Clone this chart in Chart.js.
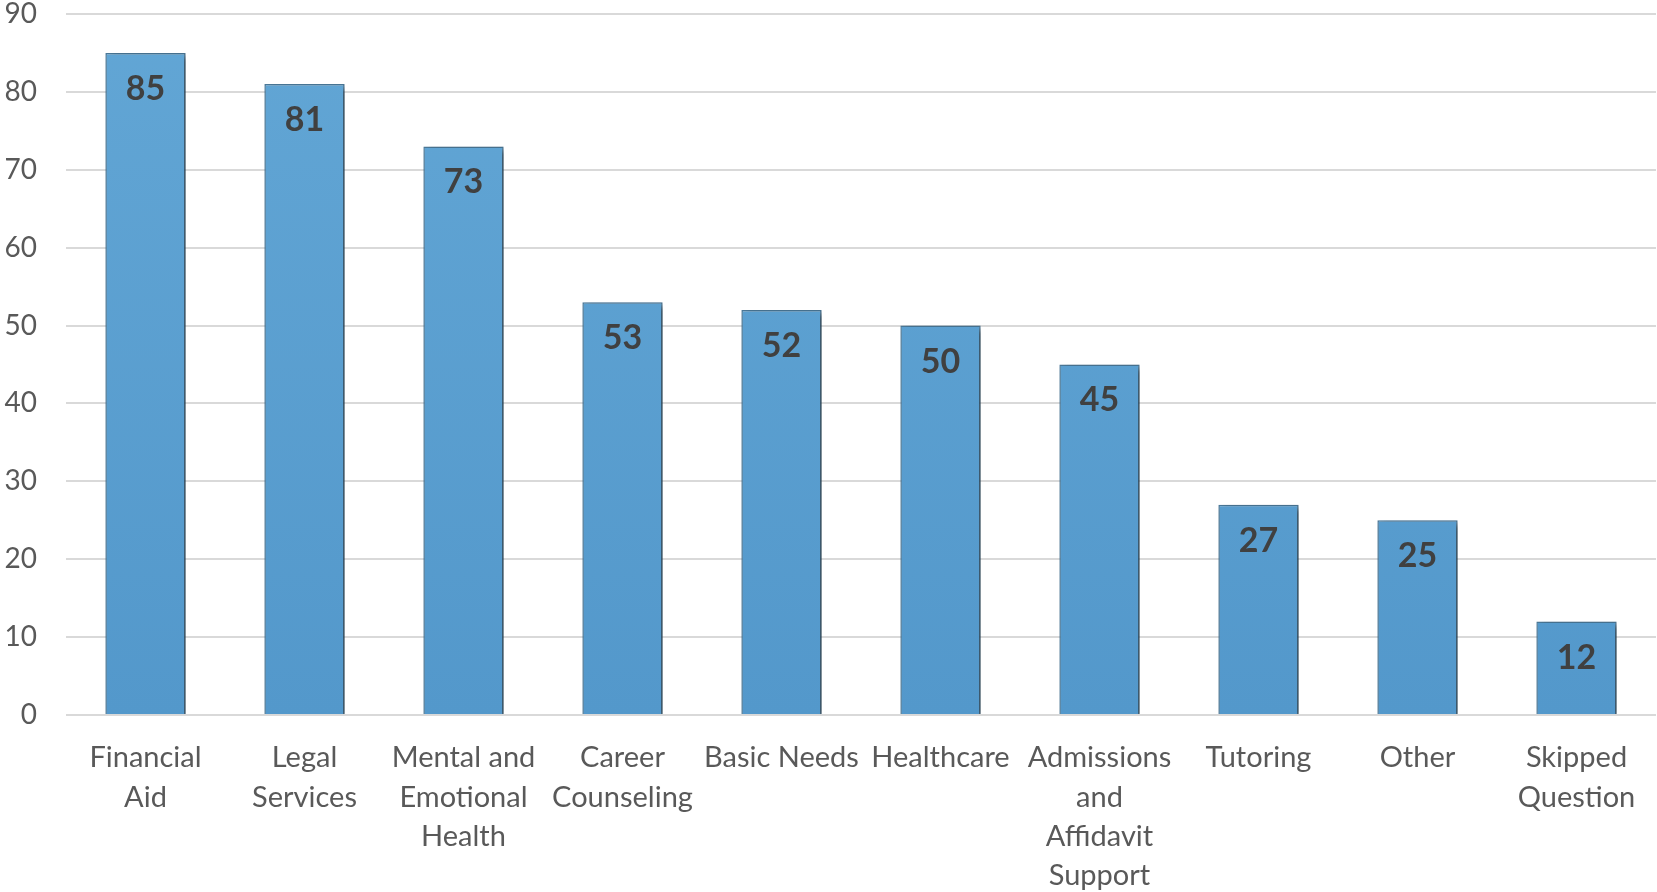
<!DOCTYPE html>
<html>
<head>
<meta charset="utf-8">
<script src="https://cdn.jsdelivr.net/npm/chart.js@4/dist/chart.umd.min.js"></script>
<style>
html,body{margin:0;padding:0;background:#fff;}
#wrap{width:1657px;height:892px;position:relative;}
</style>
</head>
<body>
<div id="wrap"><canvas id="c" width="1657" height="892"></canvas></div>
<script>
const categories = [
  ["Financial","Aid"],
  ["Legal","Services"],
  ["Mental and","Emotional","Health"],
  ["Career","Counseling"],
  "Basic Needs",
  "Healthcare",
  ["Admissions","and","Affidavit","Support"],
  "Tutoring",
  "Other",
  ["Skipped","Question"]
];
const values = [85, 81, 73, 53, 52, 50, 45, 27, 25, 12];
const yTicks = [0, 10, 20, 30, 40, 50, 60, 70, 80, 90];

const FONT = "Lato, 'Open Sans', sans-serif";

const shadowPlugin = {
  id: 'barShadow',
  beforeDatasetDraw(chart) {
    const ctx = chart.ctx;
    ctx.save();
    ctx.shadowColor = 'rgba(0,0,0,0.5)';
    ctx.shadowBlur = 6;
    ctx.shadowOffsetX = 4;
    ctx.shadowOffsetY = 3;
  },
  afterDatasetDraw(chart) {
    chart.ctx.restore();
  }
};

const valueLabels = {
  id: 'valueLabels',
  afterDatasetsDraw(chart) {
    const ctx = chart.ctx;
    const meta = chart.getDatasetMeta(0);
    ctx.save();
    ctx.font = "bold 34px " + FONT;
    ctx.fillStyle = '#404040';
    ctx.textAlign = 'center';
    ctx.textBaseline = 'middle';
    meta.data.forEach((bar, i) => {
      ctx.fillText(String(values[i]), bar.x, bar.y + 36);
    });
    ctx.restore();
  }
};

function barFill(context) {
  const chart = context.chart;
  const area = chart.chartArea;
  if (!area) return '#5AA0D2';
  const g = chart.ctx.createLinearGradient(0, area.top, 0, area.bottom);
  g.addColorStop(0, '#62A6D5');
  g.addColorStop(1, '#5398CB');
  return g;
}

new Chart(document.getElementById('c'), {
  type: 'bar',
  data: {
    labels: categories,
    datasets: [{
      data: values,
      backgroundColor: barFill,
      borderColor: '#4A7898',
      borderWidth: 1.5,
      categoryPercentage: 1,
      barPercentage: 0.505
    }]
  },
  options: {
    responsive: false,
    animation: false,
    devicePixelRatio: 1,
    layout: { autoPadding: false, padding: { top: 14, right: 1, left: 0, bottom: 0 } },
    plugins: { legend: { display: false }, tooltip: { enabled: false } },
    scales: {
      x: {
        grid: { display: false, drawTicks: false },
        border: { display: false },
        ticks: {
          color: '#595959',
          font: { family: FONT, size: 29, lineHeight: 1.36 },
          maxRotation: 0, minRotation: 0, autoSkip: false,
          padding: 23
        },
        afterFit(scale) { scale.height = 177; scale.paddingLeft = 0; scale.paddingRight = 0; }
      },
      y: {
        min: 0, max: 90,
        afterBuildTicks(scale) { scale.ticks = yTicks.map(v => ({ value: v })); },
        grid: { color: '#D9D9D9', lineWidth: 2, drawTicks: false },
        border: { display: false },
        ticks: {
          color: '#595959',
          font: { family: FONT, size: 28, lineHeight: 1 },
          padding: 29
        },
        afterFit(scale) { scale.width = 66; scale.paddingTop = 0; scale.paddingBottom = 0; }
      }
    }
  },
  plugins: [shadowPlugin, valueLabels]
});
</script>
</body>
</html>
